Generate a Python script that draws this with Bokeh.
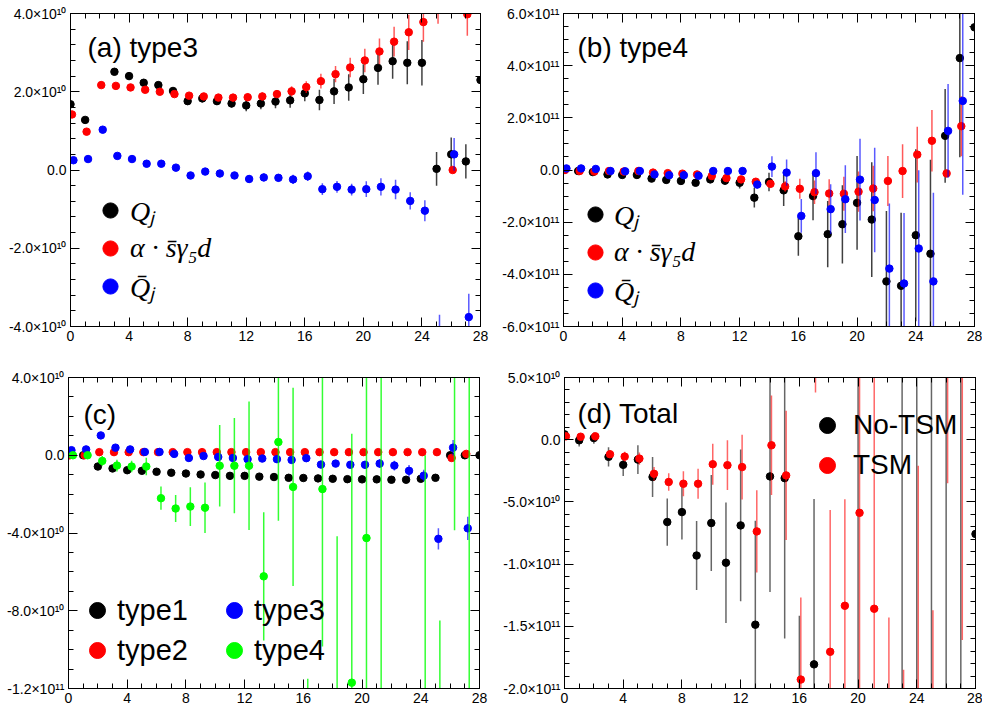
import numpy as np
from bokeh.plotting import figure
from bokeh.models import (Range1d, LinearAxis, SingleIntervalTicker, CustomJSTickFormatter,
                          Legend, LegendItem, Label, ColumnDataSource)
from bokeh.layouts import row, column
from bokeh.embed import file_html
from bokeh.resources import INLINE

nan = float("nan")

# ---------------- data (index j = 0..28) ----------------
# (a) type3, values in units of 1e10
a_Q = [1.68, 1.28, nan, 2.51, 2.40, 2.23, 2.17, 2.02, 1.76, 1.83, 1.76, 1.70, 1.65, 1.70, 1.75,
       1.78, 1.96, 1.79, 2.01, 2.11, 2.32, 2.61, 2.78, 2.74, 2.74, 0.03, 0.40, 0.22, 2.30]
a_Q_err = [0.05, 0.05, nan, 0.05, 0.10, 0.07, 0.07, 0.07, 0.08, 0.10, 0.10, 0.10, 0.15, 0.15, 0.17,
           0.19, 0.20, 0.26, 0.32, 0.34, 0.38, 0.43, 0.45, 0.55, 0.58, 0.43, 0.43, 0.44, 0.0]
a_sub = [1.42, 0.98, 2.17, 2.15, 2.11, 2.05, 2.00, 1.94, 1.90, 1.88, 1.85, 1.85, 1.86, 1.88, 1.94,
         2.01, 2.12, 2.27, 2.45, 2.62, 2.80, 3.03, 3.28, 3.52, 3.78, 4.20, 0.00, 3.98, nan]
a_sub_err = [0.03, 0.03, 0.03, 0.04, 0.05, 0.05, 0.05, 0.06, 0.06, 0.07, 0.08, 0.09, 0.10, 0.10, 0.10,
             0.13, 0.15, 0.19, 0.21, 0.25, 0.30, 0.33, 0.38, 0.45, 0.50, 0.46, 0.02, 0.55, nan]
a_Qbar = [0.25, 0.28, 1.03, 0.36, 0.28, 0.16, 0.16, 0.06, -0.14, -0.04, -0.09, -0.14, -0.23, -0.19, -0.20,
          -0.24, -0.16, -0.49, -0.43, -0.50, -0.49, -0.43, -0.50, -0.79, -1.04, -4.30, 0.40, -3.76, nan]
a_Qbar_err = [0.03, 0.03, 0.03, 0.04, 0.05, 0.04, 0.05, 0.05, 0.06, 0.06, 0.07, 0.08, 0.10, 0.10, 0.10,
              0.12, 0.12, 0.15, 0.15, 0.15, 0.20, 0.22, 0.25, 0.22, 0.27, 0.60, 0.42, 0.60, nan]

# (b) type4, values in units of 1e11
b_Q = [0.00, -0.04, -0.08, -0.17, -0.19, -0.19, -0.33, -0.38, -0.42, -0.49, -0.36, -0.41, -0.49, -1.06, -0.46,
       -0.78, -2.54, -1.00, -2.46, -2.08, -1.26, -1.90, -4.27, -4.44, -2.50, -3.21, 1.31, 4.29, 5.47]
b_Q_err = [0.02, 0.03, 0.04, 0.05, 0.05, 0.06, 0.07, 0.08, 0.09, 0.10, 0.12, 0.15, 0.22, 0.38, 0.35,
           0.60, 0.75, 0.93, 1.27, 1.50, 1.80, 2.20, 2.70, 2.80, 3.30, 3.60, 1.80, 3.80, 0.0]
b_sub = [0.00, -0.04, -0.06, -0.04, -0.06, -0.04, -0.10, -0.12, -0.14, -0.17, -0.23, -0.31, -0.36, -0.45, -0.53,
         -0.63, -0.72, -0.85, -0.90, -0.91, -0.83, -0.71, -0.42, -0.04, 0.59, 1.12, -0.13, 1.68, nan]
b_sub_err = [0.02, 0.02, 0.03, 0.03, 0.03, 0.04, 0.05, 0.05, 0.06, 0.07, 0.08, 0.10, 0.12, 0.12, 0.15,
             0.20, 0.38, 0.45, 0.55, 0.65, 0.77, 0.87, 0.96, 1.03, 1.07, 1.18, 0.10, 1.15, nan]
b_Qbar = [0.06, 0.06, 0.04, -0.04, -0.05, -0.04, -0.17, -0.20, -0.20, -0.22, -0.04, -0.04, -0.04, -0.56, 0.13,
          -0.10, -1.76, -0.12, -1.50, -1.12, -0.37, -1.15, -3.78, -4.35, -3.01, -4.27, 1.50, 2.65, nan]
b_Qbar_err = [0.02, 0.02, 0.03, 0.03, 0.04, 0.04, 0.05, 0.05, 0.06, 0.07, 0.10, 0.12, 0.14, 0.15, 0.40,
              0.50, 0.65, 0.80, 0.95, 1.30, 1.57, 2.00, 2.50, 2.70, 3.00, 3.40, 1.80, 3.60, nan]

# (c) contributions by type, values in units of 1e10
c_type1 = [0.00, 0.00, -0.58, -0.68, -0.77, -0.80, -0.85, -0.90, -0.94, -0.99, -1.02, -1.06, -1.06, -1.10, -1.12,
           -1.16, -1.17, -1.19, -1.21, -1.23, -1.24, -1.24, -1.26, -1.26, -1.21, -1.16, 0.00, 0.00, 0.00]
c_type1_err = [0.02] * 29
c_type2 = [0.00, 0.00, 0.16, 0.16, 0.16, 0.16, 0.16, 0.16, 0.16, 0.16, 0.16, 0.16, 0.16, 0.16, 0.16,
           0.16, 0.16, 0.16, 0.16, 0.16, 0.16, 0.16, 0.16, 0.16, 0.16, 0.16, -0.14, 0.07, nan]
c_type2_err = [0.02] * 29
c_type3 = [0.26, 0.30, 1.02, 0.39, 0.30, 0.17, 0.17, 0.07, -0.14, -0.04, -0.09, -0.14, -0.20, -0.17, -0.20,
           -0.24, -0.15, -0.48, -0.43, -0.49, -0.49, -0.43, -0.53, -0.80, -1.05, -4.30, 0.39, -3.76, nan]
c_type3_err = [0.03, 0.03, 0.03, 0.04, 0.05, 0.04, 0.05, 0.05, 0.06, 0.06, 0.07, 0.08, 0.10, 0.10, 0.10,
               0.12, 0.12, 0.15, 0.15, 0.15, 0.20, 0.22, 0.25, 0.30, 0.30, 0.55, 0.40, 0.60, nan]
c_type4 = [0.00, 0.00, -0.29, -0.53, -0.58, -0.58, -2.21, -2.74, -2.64, -2.70, -0.54, -0.54, -0.54, -6.23, 0.68,
           -1.63, -20.0, -1.74, -13.0, -11.7, -4.26, -14.0, nan, nan, -16.0, -20.0, 5.0, -15.0, nan]
c_type4_err = [0.05, 0.05, 0.25, 0.30, 0.30, 0.45, 0.60, 0.70, 1.00, 1.30, 2.10, 2.45, 3.30, 3.30, 4.05,
               5.10, 8.50, 8.10, 8.83, 12.8, 9.00, 20.0, nan, nan, 16.0, 11.5, 8.86, 60.0, nan]

# (d) total, values in units of 1e10
d_notsm = [0.43, -0.05, 0.13, -1.38, -2.02, -1.60, -3.00, -6.62, -5.82, -9.31, -6.70, -9.89, -6.89, -14.87, -2.95,
           -3.09, -22.0, -18.06, nan, nan, -30.0, nan, nan, -30.0, -30.0, -30.0, -30.0, -30.0, -7.58]
d_notsm_err = [0.10, 0.50, 0.45, 0.77, 0.90, 1.15, 1.60, 1.90, 2.20, 2.78, 3.86, 4.84, 6.10, 8.35, 9.30,
               12.9, 7.85, 13.3, nan, nan, 50.0, nan, nan, 60.0, 60.0, 60.0, 60.0, 60.0, 0.0]
d_tsm = [0.27, 0.24, 0.27, -1.17, -1.36, -1.52, -2.74, -3.40, -3.54, -3.54, -1.97, -2.05, -2.20, -7.37, -0.45,
         -2.87, -19.28, 6.5, -17.05, -13.35, -5.88, -13.59, -25.0, -24.0, -25.0, -25.0, 8.0, 8.0, nan]
d_tsm_err = [0.10, 0.10, 0.15, 0.30, 0.40, 0.50, 0.55, 0.70, 1.00, 1.20, 1.65, 2.00, 2.60, 3.30, 4.00,
             5.20, 6.60, 2.70, 11.4, 8.56, 25.0, 25.0, 10.7, 5.50, 22.9, 11.3, 11.5, 24.1, nan]

# ---------------- styling helpers ----------------
FONT = "Liberation Sans"
OFFS = [0.0, 0.1, 0.2, 0.3]   # horizontal shift of the series within a bin

FMT = CustomJSTickFormatter(code="""
if (Math.abs(tick) < 1e-30) { return "0.0"; }
const e = Math.floor(Math.log10(Math.abs(tick)) + 1e-9);
const m = tick / Math.pow(10, e);
const sup = {"0":"\\u2070","1":"\\u00b9","2":"\\u00b2","3":"\\u00b3","4":"\\u2074",
             "5":"\\u2075","6":"\\u2076","7":"\\u2077","8":"\\u2078","9":"\\u2079","-":"\\u207b"};
let s = "";
for (const c of String(e)) { s += sup[c]; }
return m.toFixed(1) + "\\u00d710" + s;
""")
EMPTY = CustomJSTickFormatter(code="return '';")


def style_axis(ax, labels):
    ax.axis_line_color = "black"
    ax.axis_line_width = 1
    ax.major_tick_in = 9
    ax.major_tick_out = 0
    ax.minor_tick_in = 5
    ax.minor_tick_out = 0
    ax.major_tick_line_color = "black"
    ax.minor_tick_line_color = "black"
    ax.major_label_text_font = FONT
    ax.major_label_text_color = "black"
    if labels:
        ax.major_label_text_font_size = "14px"
        ax.major_label_standoff = 4
    else:
        ax.major_label_text_font_size = "0px"
        ax.major_label_standoff = 0


def make_fig(width, height, bl, br, bt, bb, yr, yint, yminor):
    p = figure(width=width, height=height, x_range=Range1d(0, 28), y_range=Range1d(*yr),
               output_backend="svg", toolbar_location=None, tools="",
               x_axis_type=None, y_axis_type=None,
               min_border_left=bl, min_border_right=br, min_border_top=bt, min_border_bottom=bb)
    p.outline_line_color = "black"
    p.outline_line_width = 1
    p.outline_line_alpha = 1
    p.background_fill_color = "white"
    p.border_fill_color = "white"
    xt = SingleIntervalTicker(interval=4, num_minor_ticks=4)
    yt = SingleIntervalTicker(interval=yint, num_minor_ticks=yminor)
    for side, lab in (("below", True), ("above", False)):
        ax = LinearAxis(ticker=xt) if lab else LinearAxis(ticker=xt, formatter=EMPTY)
        style_axis(ax, lab)
        p.add_layout(ax, side)
    for side, lab in (("left", True), ("right", False)):
        ax = LinearAxis(ticker=yt, formatter=FMT if lab else EMPTY)
        style_axis(ax, lab)
        p.add_layout(ax, side)
    return p


def series(p, vals, errs, scale, offset, color, bar_alpha):
    v = np.array(vals, dtype=float) * scale
    e = np.array(errs, dtype=float) * scale
    x = np.arange(len(v)) + offset
    src = ColumnDataSource(dict(x=x, y=v, lo=v - e, hi=v + e))
    p.segment(x0="x", y0="lo", x1="x", y1="hi", source=src, line_color=color,
              line_width=1.5, line_alpha=bar_alpha)
    return p.scatter("x", "y", source=src, size=7.5, marker="circle",
                     fill_color=color, line_color=color)


def title(p, text, x, y_from_top, frame_h):
    p.add_layout(Label(x=x, y=frame_h - y_from_top, x_units="screen", y_units="screen", text=text,
                       text_font=FONT, text_font_size="28px", text_color="black",
                       text_baseline="alphabetic", text_align="left"))


def legend(p, items, loc, gw, gh, spacing, standoff, font, size, style="normal", ncols=1, label_width=20):
    lg = Legend(items=[LegendItem(label=l, renderers=[r]) for l, r in items], location=loc,
                glyph_width=gw, glyph_height=gh, label_height=gh, spacing=spacing,
                label_standoff=standoff, padding=0, margin=0, ncols=ncols, label_width=label_width,
                border_line_color=None, background_fill_alpha=0,
                label_text_font=font, label_text_font_size=size, label_text_font_style=style,
                label_text_color="black")
    p.add_layout(lg)


LBL_Q = "Q\u2c7c"
LBL_SUB = "\u03b1 \u00b7 s\u0304\u03b3\u2085d"
LBL_QBAR = "Q\u0304\u2c7c"

FH = 313  # frame height of every panel

# ---------------- (a) ----------------
pa = make_fig(490, 355, 70, 10, 13, 29, (-4e10, 4e10), 2e10, 5)
ra1 = series(pa, a_Q, a_Q_err, 1e10, OFFS[0], "black", 0.75)
ra2 = series(pa, a_sub, a_sub_err, 1e10, OFFS[1], "red", 0.65)
ra3 = series(pa, a_Qbar, a_Qbar_err, 1e10, OFFS[2], "blue", 0.65)
title(pa, "(a) type3", 17, 34, FH)
legend(pa, [(LBL_Q, ra1), (LBL_SUB, ra2), (LBL_QBAR, ra3)], (21, 21), 38, 38, -4, 1,
       "Liberation Serif", "28px", "italic")

# ---------------- (b) ----------------
pb = make_fig(492, 355, 73, 8, 13, 29, (-6e11, 6e11), 2e11, 4)
rb1 = series(pb, b_Q, b_Q_err, 1e11, OFFS[0], "black", 0.75)
rb2 = series(pb, b_sub, b_sub_err, 1e11, OFFS[1], "red", 0.65)
rb3 = series(pb, b_Qbar, b_Qbar_err, 1e11, OFFS[2], "blue", 0.65)
title(pb, "(b) type4", 14, 34, FH)
legend(pb, [(LBL_Q, rb1), (LBL_SUB, rb2), (LBL_QBAR, rb3)], (13, 17), 38, 38, -3, 0,
       "Liberation Serif", "28px", "italic")

# ---------------- (c) ----------------
pc = make_fig(490, 358, 68, 11, 20, 25, (-1.2e11, 4e10), 4e10, 4)
rc1 = series(pc, c_type1, c_type1_err, 1e10, OFFS[0], "black", 0.75)
rc2 = series(pc, c_type2, c_type2_err, 1e10, OFFS[1], "red", 0.65)
rc3 = series(pc, c_type3, c_type3_err, 1e10, OFFS[2], "blue", 0.65)
rc4 = series(pc, c_type4, c_type4_err, 1e10, OFFS[3], "#00ff00", 0.8)
title(pc, "(c)", 15, 39, FH)
legend(pc, [("type1", rc1), ("type2", rc2), ("type3", rc3), ("type4", rc4)], (9, 18), 40, 40, -7, 0,
       FONT, "29px", ncols=2, label_width=97)

# ---------------- (d) ----------------
pd_ = make_fig(492, 358, 74, 7, 22, 23, (-2e11, 5e10), 5e10, 5)
rd1 = series(pd_, d_notsm, d_notsm_err, 1e10, OFFS[0], "black", 0.6)
rd2 = series(pd_, d_tsm, d_tsm_err, 1e10, OFFS[1], "red", 0.6)
title(pd_, "(d) Total", 13, 38, FH)
legend(pd_, [("No-TSM", rd1), ("TSM", rd2)], (243, 203), 40, 40, 0, 6, FONT, "28px")

layout = column(row(pa, pb), row(pc, pd_))
open("out.html", "w").write(file_html(layout, INLINE))
